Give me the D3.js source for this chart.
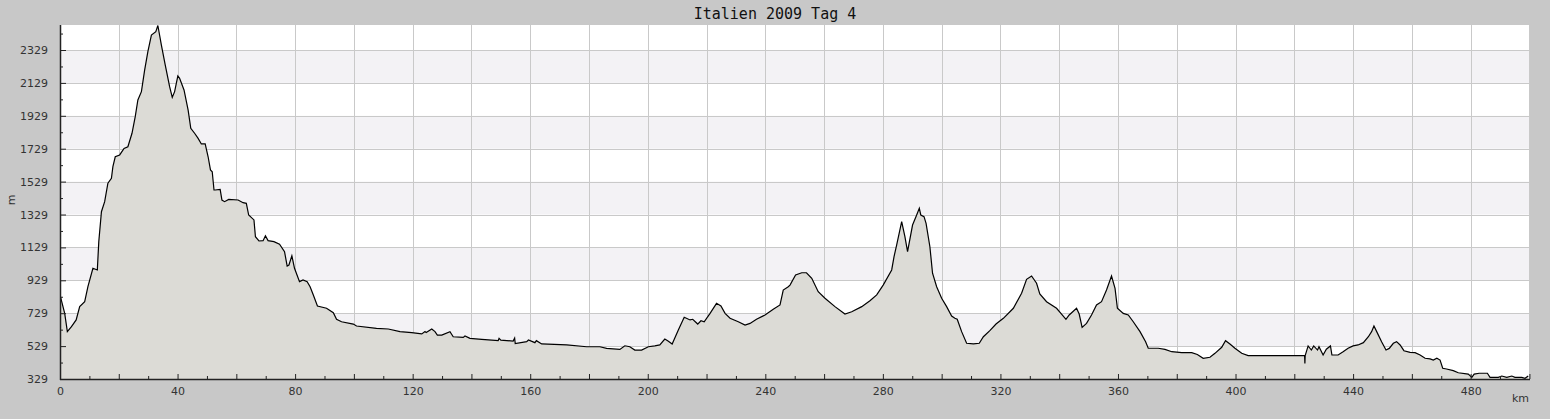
<!DOCTYPE html>
<html>
<head>
<meta charset="utf-8">
<script src="https://cdn.jsdelivr.net/npm/d3@7"></script>
<style>
  body { margin: 0; background: #c8c8c8; }
  svg { display: block; }
</style>
</head>
<body>
<svg width="1550" height="419"></svg>
<script>
var chartTitle = "Italien 2009 Tag 4";
var xLabel = "km";
var yLabel = "m";

// distance along the route (km) and elevation (m)
var distKm = [0, 1.6, 2.5, 3.9, 5.5, 6.7, 8.4, 9.5, 11.2, 12.7, 13.2, 14.1, 15.2, 16.3, 17.5, 18.0, 18.8, 20.3, 21.8, 23.1,
  24.5, 25.6, 26.5, 27.7, 28.8, 29.9, 31.1, 32.6, 33.3, 34.5, 35.8, 37.3, 38.2, 39.0, 40.1, 40.7, 42.2, 43.6, 44.5, 45.8,
  47.0, 48.1, 49.4, 50.4, 51.2, 51.8, 52.4, 52.8, 54.5, 55.1, 56.0, 57.4, 60.6, 62.3, 63.4, 64.2, 66.0, 66.5, 67.7, 69.1,
  69.9, 70.8, 72.8, 74.7, 76.4, 77.3, 77.9, 78.9, 79.8, 81.5, 82.7, 84.1, 85.1, 86.2, 87.6, 90.7, 93.0, 94.1, 95.8, 99.8,
  100.9, 107.7, 111.7, 115.7, 119.7, 123.1, 124.2, 124.6, 126.5, 127.6, 128.4, 129.9, 132.7, 133.8, 137.2, 137.8, 139.5, 143.5, 149.1, 149.4,
  150.0, 154.2, 154.7, 154.9, 158.8, 159.4, 161.6, 162.1, 163.9, 172.4, 179.2, 183.7, 186.0, 190.5, 192.2, 193.9, 195.6, 197.9, 200.2, 202.4,
  204.1, 205.8, 206.9, 208.3, 210.4, 212.4, 214.4, 215.3, 217.0, 218.1, 219.2, 221.2, 223.4, 224.9, 226.3, 228.0, 230.8, 233.1, 234.8, 237.0,
  239.9, 242.7, 245.0, 246.1, 247.8, 248.4, 250.3, 252.4, 254.0, 255.8, 258.0, 260.3, 263.7, 267.1, 269.4, 272.8, 275.6, 277.9, 280.1, 283.0,
  283.8, 284.7, 286.4, 287.5, 288.4, 290.1, 291.5, 292.4, 292.9, 294.0, 294.7, 296.0, 296.9, 298.3, 300.0, 301.7, 303.4, 304.5, 305.3, 306.8,
  308.5, 310.8, 312.8, 314.2, 316.4, 318.5, 321.0, 324.4, 327.2, 328.9, 330.6, 332.3, 333.4, 335.7, 339.1, 340.8, 342.3, 343.4, 345.9, 346.8,
  347.8, 349.3, 351.0, 352.7, 354.4, 356.1, 357.8, 359.0, 359.8, 361.8, 363.5, 365.2, 367.5, 369.4, 370.3, 373.7, 376.0, 378.3, 381.7, 385.1,
  387.0, 389.0, 391.3, 393.0, 395.3, 396.6, 398.1, 399.8, 402.1, 404.3, 408.9, 415.7, 422.5, 423.5, 423.6, 423.7, 424.7, 425.8, 426.6, 427.9,
  428.4, 429.8, 430.9, 432.3, 432.8, 434.9, 436.6, 438.3, 440.0, 441.7, 443.5, 445.2, 446.3, 447.1, 448.2, 449.7, 451.2, 452.3, 453.7, 454.8,
  456.0, 457.3, 459.4, 461.1, 462.8, 464.5, 466.2, 467.3, 468.5, 469.6, 470.5, 471.8, 474.1, 475.8, 479.2, 480.4, 481.2, 482.9, 485.7, 486.6,
  489.4, 490.6, 492.3, 494.0, 495.1, 497.4, 498.5, 499.6];

var elevM = [840, 728, 617, 647, 688, 769, 799, 890, 1002, 992, 1164, 1346, 1407, 1519, 1549, 1620, 1680, 1691, 1731, 1741,
  1823, 1924, 2025, 2076, 2207, 2319, 2420, 2440, 2478, 2359, 2238, 2106, 2041, 2076, 2171, 2157, 2086, 1964, 1853, 1823,
  1792, 1758, 1758, 1680, 1600, 1589, 1478, 1478, 1482, 1417, 1407, 1421, 1417, 1401, 1397, 1326, 1296, 1194, 1168, 1170,
  1200, 1170, 1164, 1148, 1103, 1016, 1022, 1078, 1002, 921, 931, 921, 890, 840, 773, 759, 732, 692, 677, 663,
  651, 637, 633, 617, 611, 603, 617, 611, 633, 617, 596, 596, 617, 586, 582, 590, 576, 570, 562, 576,
  565, 560, 578, 545, 556, 566, 550, 562, 542, 536, 525, 525, 515, 509, 531, 525, 505, 505, 525, 530,
  536, 572, 560, 542, 627, 704, 688, 692, 663, 683, 677, 728, 789, 773, 728, 698, 677, 657, 667, 692,
  718, 753, 779, 870, 890, 900, 961, 975, 975, 941, 860, 820, 769, 724, 738, 769, 805, 840, 900, 992,
  1073, 1144, 1285, 1194, 1103, 1265, 1326, 1367, 1326, 1316, 1275, 1133, 972, 890, 820, 769, 712, 698, 692, 617,
  546, 542, 546, 586, 623, 663, 698, 759, 850, 935, 955, 911, 846, 799, 759, 724, 692, 718, 759, 724,
  643, 667, 718, 779, 799, 870, 955, 880, 760, 728, 718, 677, 617, 556, 516, 516, 509, 495, 489, 489,
  478, 455, 461, 485, 522, 562, 542, 516, 485, 471, 471, 471, 471, 471, 424, 471, 530, 505, 530, 505,
  525, 475, 510, 530, 475, 475, 495, 516, 530, 536, 550, 586, 617, 651, 611, 556, 505, 515, 546, 556,
  536, 501, 491, 489, 475, 455, 451, 444, 455, 444, 394, 390, 380, 367, 359, 339, 359, 364, 364, 339,
  339, 347, 339, 347, 339, 339, 333, 347];

var yTickValues = [329, 529, 729, 929, 1129, 1329, 1529, 1729, 1929, 2129, 2329];
var yMinorValues = [429, 629, 829, 1029, 1229, 1429, 1629, 1829, 2029, 2229, 2429];
var xLabelValues = [0, 40, 80, 120, 160, 200, 240, 280, 320, 360, 400, 440, 480];

var profile = distKm.map(function(d, i) { return {km: d, m: elevM[i]}; });

var svg = d3.select("svg");
var plotLeft = 60, plotRight = 1530, plotTop = 25, plotBottom = 379;

var x = d3.scaleLinear().domain([0, 500.2]).range([plotLeft, plotRight]);
var y = d3.scaleLinear().domain([329, 2481]).range([plotBottom, plotTop]);

// plot background
svg.append("rect")
    .attr("x", plotLeft).attr("y", plotTop)
    .attr("width", plotRight - plotLeft).attr("height", plotBottom - plotTop)
    .attr("fill", "#ffffff");

// alternating bands
var bandStarts = [529, 929, 1329, 1729, 2129];
svg.selectAll(".band")
    .data(bandStarts)
    .enter().append("rect")
    .attr("class", "band")
    .attr("x", plotLeft)
    .attr("width", plotRight - plotLeft)
    .attr("y", function(d) { return y(d + 200); })
    .attr("height", function(d) { return y(d) - y(d + 200); })
    .attr("fill", "#f3f2f5");

// grid
var grid = svg.append("g").attr("stroke", "#c9c9c9").attr("stroke-width", 1);
grid.selectAll(".vg")
    .data(d3.range(20, 500, 20))
    .enter().append("line")
    .attr("x1", function(d) { return Math.round(x(d)) + 0.5; })
    .attr("x2", function(d) { return Math.round(x(d)) + 0.5; })
    .attr("y1", plotTop).attr("y2", plotBottom);
grid.selectAll(".hg")
    .data(yTickValues.slice(1))
    .enter().append("line")
    .attr("y1", function(d) { return Math.round(y(d)) + 0.5; })
    .attr("y2", function(d) { return Math.round(y(d)) + 0.5; })
    .attr("x1", plotLeft).attr("x2", plotRight);
grid.append("line")
    .attr("x1", plotRight - 0.5).attr("x2", plotRight - 0.5)
    .attr("y1", plotTop).attr("y2", plotBottom);

svg.append("clipPath").attr("id", "plotclip")
    .append("rect")
    .attr("x", plotLeft).attr("y", plotTop)
    .attr("width", plotRight - plotLeft).attr("height", plotBottom - plotTop);

var area = d3.area()
    .x(function(d) { return x(d.km); })
    .y0(plotBottom)
    .y1(function(d) { return y(d.m); });

var line = d3.line()
    .x(function(d) { return x(d.km); })
    .y(function(d) { return y(d.m); });

svg.append("path")
    .datum(profile)
    .attr("clip-path", "url(#plotclip)")
    .attr("d", area)
    .attr("fill", "#dcdbd6");

svg.append("path")
    .datum(profile)
    .attr("clip-path", "url(#plotclip)")
    .attr("d", line)
    .attr("fill", "none")
    .attr("stroke", "#000")
    .attr("stroke-width", 1.2);

// axes
var axisColor = "#222";
var yAxis = d3.axisLeft(y)
    .tickValues(yTickValues)
    .tickSizeInner(-6)
    .tickSizeOuter(0)
    .tickPadding(12)
    .tickFormat(d3.format("d"));
var yg = svg.append("g")
    .attr("transform", "translate(" + plotLeft + ",0)")
    .call(yAxis);

var yMinor = d3.axisLeft(y)
    .tickValues(yMinorValues)
    .tickSizeInner(-3)
    .tickSizeOuter(0)
    .tickFormat("");
var ymg = svg.append("g")
    .attr("transform", "translate(" + plotLeft + ",0)")
    .call(yMinor);

var xAxis = d3.axisBottom(x)
    .tickValues(d3.range(0, 501, 20))
    .tickSizeInner(-5)
    .tickSizeOuter(0)
    .tickPadding(8)
    .tickFormat(function(d) { return xLabelValues.indexOf(d) >= 0 ? d : ""; });
var xg = svg.append("g")
    .attr("transform", "translate(0," + plotBottom + ")")
    .call(xAxis);

var xMinor = d3.axisBottom(x)
    .tickValues(d3.range(10, 500, 20))
    .tickSizeInner(-3)
    .tickSizeOuter(0)
    .tickFormat("");
var xmg = svg.append("g")
    .attr("transform", "translate(0," + plotBottom + ")")
    .call(xMinor);

[yg, ymg, xg, xmg].forEach(function(g) {
    g.select(".domain").remove();
    g.selectAll("line").attr("stroke", axisColor);
    g.selectAll("text")
        .attr("fill", "#333")
        .style("font-family", "DejaVu Sans")
        .style("font-size", "11px");
});

svg.append("line")
    .attr("x1", plotLeft + 0.5).attr("x2", plotLeft + 0.5)
    .attr("y1", plotTop).attr("y2", plotBottom + 1)
    .attr("stroke", axisColor).attr("stroke-width", 1.5);
svg.append("line")
    .attr("x1", plotLeft).attr("x2", plotRight)
    .attr("y1", plotBottom + 0.5).attr("y2", plotBottom + 0.5)
    .attr("stroke", axisColor).attr("stroke-width", 1.5);

// labels
svg.append("text")
    .attr("x", 775).attr("y", 19)
    .attr("text-anchor", "middle")
    .style("font-family", "DejaVu Sans Mono")
    .style("font-size", "15px")
    .attr("fill", "#111")
    .text(chartTitle);

svg.append("text")
    .attr("x", 1529).attr("y", 402)
    .attr("text-anchor", "end")
    .style("font-family", "DejaVu Sans")
    .style("font-size", "11px")
    .attr("fill", "#333")
    .text(xLabel);

svg.append("text")
    .attr("transform", "translate(15,200) rotate(-90)")
    .attr("text-anchor", "middle")
    .style("font-family", "DejaVu Sans")
    .style("font-size", "11px")
    .attr("fill", "#333")
    .text(yLabel);
</script>
</body>
</html>
